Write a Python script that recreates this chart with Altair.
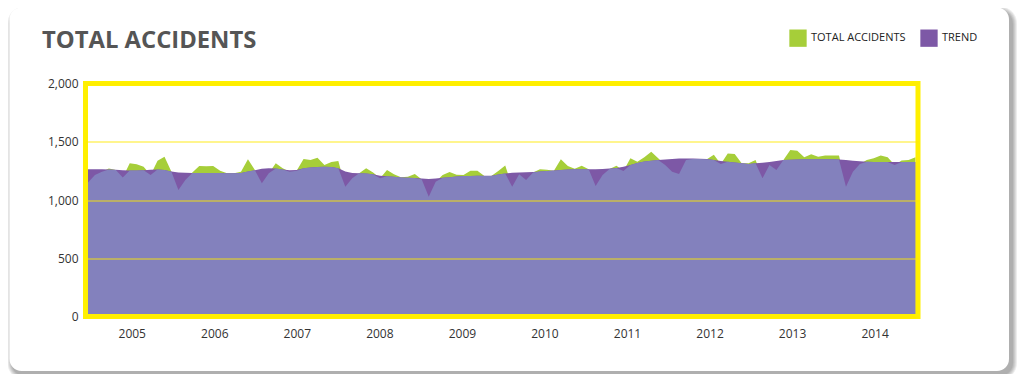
import altair as alt
import pandas as pd

# ---- data ----
years = [2005, 2006, 2007, 2008, 2009, 2010, 2011, 2012, 2013, 2014]

total = [1150, 1215, 1243, 1270, 1257, 1194, 1315, 1306, 1286, 1215, 1337, 1372,
         1243, 1086, 1171, 1237, 1292, 1289, 1292, 1252, 1229, 1229, 1243, 1349,
         1257, 1143, 1229, 1315, 1272, 1243, 1252, 1352, 1343, 1363, 1300, 1326,
         1335, 1114, 1186, 1229, 1272,
         1237, 1186, 1257, 1220, 1196, 1200, 1223, 1177, 1028, 1157, 1214, 1240,
         1217, 1214, 1252, 1252, 1206, 1206, 1249, 1297, 1114, 1220, 1171, 1237,
         1263, 1260, 1252, 1349, 1292, 1269, 1295, 1263, 1120, 1214, 1266, 1295,
         1249, 1358, 1329,
         1366, 1415, 1358, 1300, 1243, 1223, 1343, 1352, 1352, 1350, 1389, 1309,
         1400, 1395, 1315, 1315, 1343, 1186, 1300, 1257, 1343, 1429, 1423, 1366,
         1392, 1372, 1383, 1383, 1383, 1114, 1243, 1309, 1343, 1358, 1383, 1366,
         1300, 1340, 1343, 1366]

trend = [1263, 1263, 1263, 1262, 1260, 1255, 1254, 1254, 1256, 1260, 1261, 1258,
         1245, 1237, 1234, 1232, 1232, 1232, 1232, 1231, 1230, 1229, 1232, 1245,
         1255, 1268, 1272, 1270, 1262, 1256, 1258, 1272, 1280, 1284, 1286, 1284,
         1272, 1245, 1232, 1229, 1228,
         1222, 1208, 1204, 1200, 1194, 1191, 1189, 1185, 1181, 1184, 1190, 1196,
         1201, 1206, 1207, 1208, 1208, 1209, 1218, 1228, 1233, 1236, 1238, 1240,
         1244, 1249, 1254, 1258, 1262, 1263, 1263, 1263, 1264, 1267, 1270, 1275,
         1285, 1300, 1318,
         1330, 1337, 1343, 1348, 1353, 1357, 1357, 1356, 1354, 1352, 1344, 1335,
         1328, 1322, 1316, 1310, 1315, 1320, 1326, 1335, 1343, 1346, 1348, 1349,
         1349, 1349, 1349, 1349, 1348, 1343, 1337, 1332, 1328, 1326, 1326, 1326,
         1326, 1326, 1326, 1326]

series_names = ["TOTAL ACCIDENTS", "TREND"]
y_ticks = [0, 500, 1000, 1500, 2000]

df = pd.DataFrame({"month": list(range(len(total))), "total": total, "trend": trend})
one = pd.DataFrame({"k": [1]})

# ---- layout ----
W, H = 832.5, 233
FONT = "Open Sans"
GREEN, PURPLE, LAVENDER, YELLOW = "#A6CE39", "#7D58A6", "#8381BD", "#FFF000"

x_scale = alt.Scale(domain=[-0.36, len(total) - 1 + 0.36], nice=False, zero=False)
y_scale = alt.Scale(domain=[0, 2000], nice=False)
color_scale = alt.Scale(domain=series_names, range=[GREEN, PURPLE])

tick_pos = [6.29 + 11.87 * k for k in range(len(years))]

x_enc = alt.X("month:Q", scale=x_scale, axis=alt.Axis(
    values=tick_pos, labelExpr=f"'' + ({years[0]} + round((datum.value - 6.29) / 11.87))",
    title=None, grid=False, domain=False, ticks=False, tickSize=0, labelPadding=12,
    labelFontSize=12, labelColor="#333333", labelFont=FONT, labelFlush=False,
    labelOverlap=False, zindex=2))
y_axis = alt.Axis(values=y_ticks, labelExpr="format(datum.value, ',')", title=None, grid=True,
                  gridColor="#FFE800", gridOpacity=0.6, gridWidth=1.5,
                  domain=False, ticks=False, tickSize=0, labelPadding=7.5,
                  labelFontSize=12, labelColor="#333333", labelFont=FONT, zindex=2)

legend = alt.Legend(orient="none", legendX=703.5, legendY=-54.5, direction="horizontal",
                    title=None, symbolType="square", symbolSize=300, symbolStrokeWidth=0,
                    symbolOpacity=1, labelFont=FONT, labelFontSize=11, labelColor="#222222",
                    labelOffset=4, columnPadding=14, padding=0, zindex=2)

base = alt.Chart(df)

# card with soft shadow
L, T, R, B = -76, -76, 923.5, 287.5
shadows = []
for s in [1, 2, 3, 4, 5]:
    shadows.append(alt.Chart(one).mark_rect(color="black", opacity=0.07, cornerRadius=12 + s).encode(
        x=alt.value(L + 3 - s), x2=alt.value(R + 3 + s),
        y=alt.value(T + 4 - s), y2=alt.value(B + 4 + s)))
card = alt.Chart(one).mark_rect(color="white", cornerRadius=12).encode(
    x=alt.value(L), x2=alt.value(R), y=alt.value(T), y2=alt.value(B))

green = base.transform_calculate(series="'TOTAL ACCIDENTS'").mark_area(opacity=1).encode(
    x=x_enc, y=alt.Y("total:Q", scale=y_scale, axis=y_axis),
    color=alt.Color("series:N", scale=color_scale, legend=legend))
purple = base.transform_calculate(series="'TREND'").mark_area(opacity=1).encode(
    x=x_enc, y=alt.Y("trend:Q", scale=y_scale, axis=y_axis),
    color=alt.Color("series:N", scale=color_scale, legend=legend))
lavender = base.transform_calculate(lo="min(datum.total, datum.trend)").mark_area(
    color=LAVENDER, opacity=1).encode(
    x=x_enc, y=alt.Y("lo:Q", scale=y_scale, axis=y_axis))

border = alt.Chart(one).mark_rect(fill="white", fillOpacity=0, stroke=YELLOW, strokeWidth=5).encode(
    x=alt.value(0), x2=alt.value(W), y=alt.value(0), y2=alt.value(H))

title = alt.Chart(one).mark_text(text="TOTAL ACCIDENTS", font=FONT, fontWeight="bold",
                                 fontSize=23.8, color="#555555", align="left",
                                 baseline="alphabetic").encode(
    x=alt.value(-43.5), y=alt.value(-35.5))

chart = alt.layer(*shadows, card, green, purple, lavender, border, title).properties(
    width=W, height=H,
    padding={"left": 77.5, "top": 75.5, "right": 100, "bottom": 57.5},
    autosize=alt.AutoSizeParams(type="none"),
    background="white",
).configure_view(stroke=None)

chart.save("out.html", embed_options={"renderer": "svg", "actions": False})
